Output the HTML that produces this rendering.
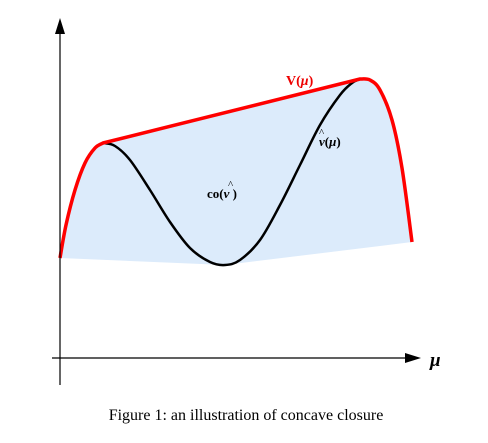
<!DOCTYPE html>
<html><head><meta charset="utf-8"><style>
html,body{margin:0;padding:0;background:#fff;width:488px;height:443px;overflow:hidden}
svg{display:block}
</style></head><body>
<svg id="chart" width="488" height="443" viewBox="0 0 488 443" xmlns="http://www.w3.org/2000/svg">
<g id="plot"></g>
<line x1="60" y1="385" x2="60" y2="30" stroke="#000" stroke-width="1.2"/>
<polygon points="60,18 55,34 65,34" fill="#000"/>
<line x1="52" y1="358" x2="408" y2="358" stroke="#000" stroke-width="1.2"/>
<polygon points="421,358 405,353 405,363" fill="#000"/>
<text x="430" y="366" font-family="Liberation Serif, serif" font-style="italic" font-weight="bold" font-size="19">μ</text>
<text x="286" y="85" fill="#e00" font-family="Liberation Serif, serif" font-weight="bold" font-size="14">V(<tspan font-style="italic">μ</tspan>)</text>
<text x="319" y="146" font-family="Liberation Serif, serif" font-weight="bold" font-size="13"><tspan font-style="italic">v</tspan>(<tspan font-style="italic">μ</tspan>)</text>
<text x="319" y="136" font-family="Liberation Serif, serif" font-size="11">^</text>
<text x="207" y="198" font-family="Liberation Serif, serif" font-weight="bold" font-size="13">co(<tspan font-style="italic">v</tspan> )</text>
<text x="228" y="188" font-family="Liberation Serif, serif" font-size="11">^</text>
<text x="246" y="420" text-anchor="middle" font-family="Liberation Serif, serif" font-size="16">Figure 1: an illustration of concave closure</text>
</svg>
<script>
const redLeftMu = [0, 6, 15, 25, 35, 43];
const redLeftVal = [100, 133, 168, 195, 210, 215];
const blackMu = [43, 55, 70, 90, 110, 130, 150, 165, 180, 200, 220, 240, 260, 280, 292, 300];
const blackVal = [215, 212, 198, 168, 136, 110, 96, 93, 98, 118, 153, 193, 233, 263, 275, 279];
const redRightMu = [300, 310, 320, 332, 342, 352];
const redRightVal = [279, 278, 268, 238, 190, 116];
const baseMu = [352, 165, 0];
const baseVal = [116, 93, 100];

function x(m){return 60 + m;}
function y(v){return 358 - v;}
function pts(ms, vs){return ms.map((m,i)=>[x(m), y(vs[i])]);}
function spline(p){
  let d = 'M' + p[0][0] + ',' + p[0][1];
  for(let i=0;i<p.length-1;i++){
    const p0=p[Math.max(i-1,0)], p1=p[i], p2=p[i+1], p3=p[Math.min(i+2,p.length-1)];
    const c1=[p1[0]+(p2[0]-p0[0])/6, p1[1]+(p2[1]-p0[1])/6];
    const c2=[p2[0]-(p3[0]-p1[0])/6, p2[1]-(p3[1]-p1[1])/6];
    d += ' C'+c1[0]+','+c1[1]+' '+c2[0]+','+c2[1]+' '+p2[0]+','+p2[1];
  }
  return d;
}
const NS='http://www.w3.org/2000/svg';
const g=document.getElementById('plot');
const L=pts(redLeftMu,redLeftVal), R=pts(redRightMu,redRightVal), B=pts(blackMu,blackVal), BASE=pts(baseMu,baseVal);
const fillD = spline(L) + ' L'+R[0][0]+','+R[0][1] + spline(R).replace(/^M[^ ]+/,'') + ' L'+BASE[1][0]+','+BASE[1][1]+' L'+BASE[2][0]+','+BASE[2][1]+' Z';
const fill=document.createElementNS(NS,'path');
fill.setAttribute('d',fillD);
fill.setAttribute('fill','#dcebfb');


g.appendChild(fill);
const black=document.createElementNS(NS,'path');
black.setAttribute('d',spline(B));
black.setAttribute('fill','none');black.setAttribute('stroke','#000');black.setAttribute('stroke-width','2.5');


g.appendChild(black);
const red=document.createElementNS(NS,'path');
red.setAttribute('d',spline(L)+' L'+R[0][0]+','+R[0][1]+' '+spline(R).replace(/^M[^ ]+/,''));
red.setAttribute('fill','none');red.setAttribute('stroke','#f00');red.setAttribute('stroke-width','3.5');red.setAttribute('stroke-linejoin','round');


g.appendChild(red);
</script>
</body></html>
